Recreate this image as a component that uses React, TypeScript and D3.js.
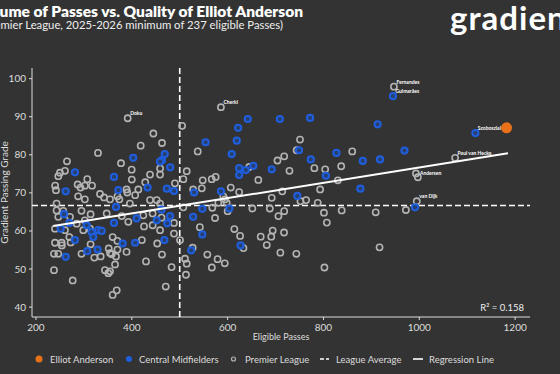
import React from "react";
import * as d3 from "d3";

// ---- data ----
const anderson: [number, number][] = [[1182, 87.1]];

const midfielders: [number, number][] = [
  [468.7, 80.2], [463, 78.6], [459, 78.2], [403, 79.2], [480, 76.7], [281.4, 75.4], [362.8, 74.2],
  [433, 71.4], [473, 71.1], [488, 70.5], [372, 70.7], [262, 70.4], [530, 70.1],
  [367, 66.3], [462, 65.6], [258.5, 64.4], [410, 63.3], [452, 62.8], [479.7, 63.9], [474, 62],
  [528, 63.7], [269.6, 62.1], [251.5, 60.6], [305.8, 61.5], [316, 59.7], [330, 60.2], [337, 60],
  [362.8, 62.1], [319.6, 58.4], [281.4, 57.6], [381, 56.7], [407, 56.9], [468, 57.6], [524, 54.9],
  [262, 53.2], [307, 54.7], [328.7, 55.1],
  [642, 89.4], [709, 89.4], [772, 89.7], [622, 87.1], [619, 83.7], [554, 83.3], [608.5, 80.2],
  [749, 81.2], [827, 80.5], [773.5, 78.8], [882, 78.4], [624, 76.5], [638, 76], [653.6, 77.1],
  [692, 76.2], [805, 74.5], [624, 74.7], [586, 70.4], [877, 71.1], [745.5, 69.2], [547, 65.8],
  [603.5, 65.9], [547, 59.1], [627, 56.2],
  [1117, 85.7], [945, 95.4], [913, 88], [969, 81.1], [918, 78.8], [991, 66.2],
];

const league: [number, number][] = [
  [391.4, 89.6], [445, 85.6], [463, 83.1], [418.6, 82.4], [329.4, 80.5], [377.5, 77.8], [264.7, 78.3],
  [459, 76.4], [399.7, 76.1], [260.5, 75.8], [250, 75.3], [246.6, 74.4], [438, 74.8], [459, 74.8],
  [400, 73.5], [307, 73.6], [428, 72.8], [490, 72.5], [514.6, 75.7], [505, 87.6], [537.6, 80.9],
  [287, 72.2], [293, 71.4], [302, 71.9], [317, 71.9], [240, 71.9], [241.7, 70.7], [389, 70.9],
  [390.6, 70.1], [413.6, 70.9], [507.5, 73.6], [333.6, 69.7], [528, 70.9],
  [288, 69.1], [302, 68.3], [342, 68.8], [354.5, 68.3], [370, 69.1], [374, 68.3], [407, 69.4],
  [438, 68.1], [452, 68.1], [243, 67.2], [396, 67.2], [459, 67.2], [507.5, 66.2], [243, 65.4],
  [295, 65.3], [257, 65.3], [271, 63.7], [246.6, 63.7], [314, 64.4], [347.6, 64.6], [379, 63.9],
  [424, 64.1], [443.5, 64.6], [462, 63.5], [488, 62.1], [239.7, 60.6], [260.5, 60.2], [285, 61.9],
  [302, 62.8], [298.7, 60.2], [312.7, 60.6], [392.7, 62.4], [425.5, 61.2], [443.5, 61.5], [459, 60.2],
  [488, 59.3], [269.6, 58.4], [272.4, 57], [239.7, 56.9], [253.6, 56.9], [254, 56.2], [314, 56.5],
  [360, 58.4], [369.8, 57.4], [421, 57.6], [453, 56.7], [500.6, 57.6], [527, 55.6], [237.6, 54],
  [295, 54], [351.8, 55.4], [354.5, 54.2], [358, 53.9], [370, 55.1], [367, 53.3], [321.7, 53],
  [335, 53.3], [389, 54.5], [429.6, 52], [463, 53.8], [483, 50.5], [511, 52.7], [514.6, 51.4],
  [513, 48.5], [237.6, 49.7], [276.6, 47], [344, 49.7], [354.5, 49.4], [351, 48.9], [365, 51.2],
  [368.5, 44.4], [360, 43.2], [470.8, 45.4], [246.6, 54],
  [586, 92.5], [751, 84], [744, 81.2], [860, 80.9], [718, 79.6], [704, 78.5], [837, 77], [645, 76.8],
  [729, 75.8], [781, 76.5], [803.5, 76.2], [664, 73.4], [830, 73.3], [548, 73.3], [566.8, 73.6],
  [575, 74.2], [546, 71.2], [606.5, 71.4], [624, 70.2], [793, 70.9], [714, 70.4], [591, 69.1],
  [594.6, 68.3], [580.6, 67.4], [598, 67.4], [692, 68.7], [752, 67.8], [763.7, 68.1], [788, 67.4],
  [568, 66.1], [600, 65.2], [651.6, 65.9], [688, 65.9], [718, 65.2], [801, 64.8], [838, 65.4],
  [573.7, 63.4], [706, 63.9], [807, 62.2], [542, 61], [614, 60.5], [694, 60.1], [717.7, 59.6],
  [626, 58.7], [669, 58.5], [691, 58.5], [633, 55.5], [681.6, 56.3], [557.6, 53.8], [710, 54.3],
  [743.4, 54], [579, 52.6], [594, 51.5], [567, 50.4], [802, 50.4],
  [947, 97.9], [1074.7, 79.2], [993, 75.1], [997, 74.1], [994.7, 67.8], [972, 65.5], [909, 64.9],
  [917, 55.7],
];

const labels: { name: string; pt: [number, number]; side?: string }[] = [
  { name: "Doku", pt: [391.4, 89.6] },
  { name: "Cherki", pt: [586, 92.5] },
  { name: "Fernandes", pt: [947, 97.9] },
  { name: "Guimarães", pt: [945, 95.4] },
  { name: "Szoboszlai", pt: [1117, 85.7] },
  { name: "Paul van Hecke", pt: [1074.7, 79.2] },
  { name: "Andersen", pt: [993, 75.1], side: "right" },
  { name: "van Dijk", pt: [994.7, 67.8] },
];

const leagueAvgPasses = 500;
const leagueAvgGrade = 66.7;
const regressionX = [236, 1185];
const regressionY = [61.3, 80.4];
const rSquared = "0.158";

const xTicks = [200, 400, 600, 800, 1000, 1200];
const yTicks = [40, 50, 60, 70, 80, 90, 100];

const W = 560;
const H = 374;
const BG = "#333333";
const GREY = "#b4b4b4";
const BLUE = "#1f5ede";
const ORANGE = "#e8711a";
const FONT = "Lato, 'Open Sans', sans-serif";

export default function App() {
  const x = d3.scaleLinear().domain([191.7, 1231]).range([32, 530]);
  const y = d3.scaleLinear().domain([37.4, 102.8]).range([317, 68]);
  const line = d3.line<[number, number]>().x((d) => x(d[0])).y((d) => y(d[1]));
  const reg: [number, number][] = regressionX.map((v, i) => [v, regressionY[i]]);

  return (
    <svg width={W} height={H} style={{ position: "absolute", left: 0, top: 0 }} fontFamily={FONT}>
      <rect width={W} height={H} fill={BG} />

      {/* title */}
      <text x={303} y={16.5} textAnchor="end" fill="#fff" fontSize={15.5} fontWeight={800}>
        Volume of Passes vs. Quality of Elliot Anderson
      </text>
      <text x={283} y={29} textAnchor="end" fill="#eee" fontSize={11.3}>
        (Premier League, 2025-2026 minimum of 237 eligible Passes)
      </text>
      <text x={450} y={30} fill="#fff" fontSize={33} fontWeight={700} letterSpacing={1}>
        gradient
      </text>

      {/* axes */}
      <line x1={32} x2={32} y1={68} y2={317} stroke="#ddd" strokeWidth={1} />
      <line x1={32} x2={530} y1={317} y2={317} stroke="#ddd" strokeWidth={1} />
      {yTicks.map((t) => (
        <g key={"y" + t}>
          <line x1={29} x2={32} y1={y(t)} y2={y(t)} stroke="#ddd" />
          <text x={26} y={y(t) + 3.5} textAnchor="end" fill="#ddd" fontSize={10}>{t}</text>
        </g>
      ))}
      {xTicks.map((t) => (
        <g key={"x" + t}>
          <line x1={x(t)} x2={x(t)} y1={317} y2={320} stroke="#ddd" />
          <text x={x(t)} y={331} textAnchor="middle" fill="#ddd" fontSize={10}>{t}</text>
        </g>
      ))}
      <text x={281} y={340} textAnchor="middle" fill="#ddd" fontSize={9}>Eligible Passes</text>
      <text transform={`translate(8,${(68 + 317) / 2}) rotate(-90)`} textAnchor="middle" fill="#ddd" fontSize={10}>
        Gradient Passing Grade
      </text>

      {/* reference lines */}
      <line x1={x(leagueAvgPasses)} x2={x(leagueAvgPasses)} y1={68} y2={317} stroke="#fff" strokeWidth={1.6} strokeDasharray="6,3" />
      <line x1={32} x2={530} y1={y(leagueAvgGrade)} y2={y(leagueAvgGrade)} stroke="#fff" strokeWidth={1.6} strokeDasharray="6,3" />

      {/* points */}
      {league.map((d, i) => (
        <circle key={"l" + i} cx={x(d[0])} cy={y(d[1])} r={3.1} fill="none" stroke={GREY} strokeWidth={1.6} />
      ))}
      {midfielders.map((d, i) => (
        <circle key={"m" + i} cx={x(d[0])} cy={y(d[1])} r={3.1} fill="#27406e" stroke={BLUE} strokeWidth={2} />
      ))}
      <path d={line(reg) || ""} stroke="#fff" strokeWidth={2} fill="none" />
      {anderson.map((d, i) => (
        <circle key={"a" + i} cx={x(d[0])} cy={y(d[1])} r={5.5} fill={ORANGE} />
      ))}

      {labels.map((l) => (
        <text
          key={l.name}
          x={x(l.pt[0]) + (l.side === "right" ? 4 : 2.5)}
          y={y(l.pt[1]) + (l.side === "right" ? 1.5 : -3)}
          fill="#fff"
          fontSize={5}
          fontWeight={700}
        >
          {l.name}
        </text>
      ))}

      <text x={524} y={311} textAnchor="end" fill="#eee" fontSize={9.5}>R² = {rSquared}</text>

      {/* legend */}
      <g fontSize={9.5} fill="#ddd">
        <circle cx={39} cy={359} r={3.5} fill={ORANGE} />
        <text x={50} y={362.5}>Elliot Anderson</text>
        <circle cx={129} cy={359} r={3} fill={BLUE} />
        <text x={139} y={362.5}>Central Midfielders</text>
        <circle cx={233.5} cy={359} r={2} fill="none" stroke={GREY} strokeWidth={1.2} />
        <text x={245} y={362.5}>Premier League</text>
        <line x1={320} x2={329} y1={359} y2={359} stroke="#fff" strokeWidth={1.4} strokeDasharray="4,2" />
        <text x={336} y={362.5}>League Average</text>
        <line x1={413} x2={423} y1={359} y2={359} stroke="#fff" strokeWidth={1.6} />
        <text x={429} y={362.5}>Regression Line</text>
      </g>
    </svg>
  );
}
